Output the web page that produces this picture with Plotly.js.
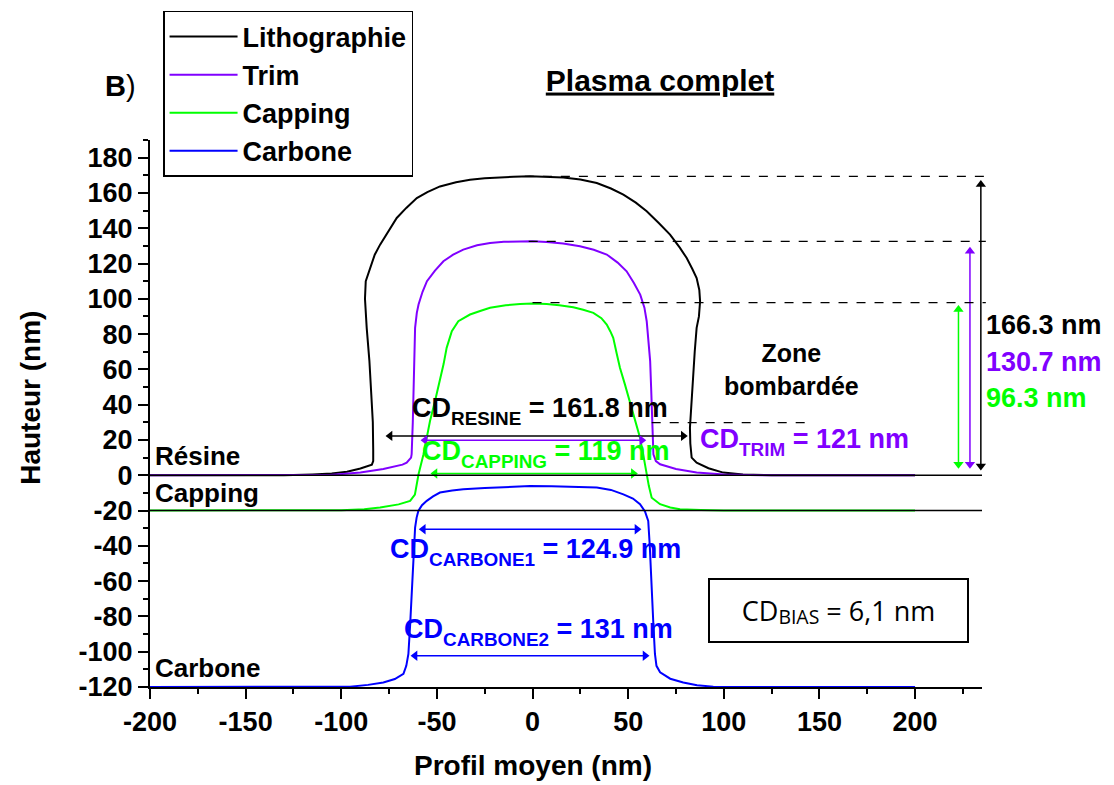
<!DOCTYPE html>
<html><head><meta charset="utf-8">
<script src="https://cdn.plot.ly/plotly-3.0.1.min.js"></script>
<style>html,body{margin:0;padding:0;background:#fff}</style>
</head><body><div id="chart" style="width:1114px;height:785px"></div>
<script>
// ---- data ----
const seriesNames = ['Lithographie','Trim','Capping','Carbone'];
const seriesColors = ['#000000','#8000ff','#00ff00','#0000ff'];

const lithoX = [-200,-130,-115,-105,-97,-90,-84,-83.3,-83.3,-83.5,-84.3,-85.3,-86.7,-87.6,-87.2,-85,-82.5,-79.7,-75.5,-71,-66,-60.5,-55,-48.4,-40,-32.7,-25,-18.7,-10,-1.3,8,16.1,25,33.6,41,47.5,54,59.7,66,71.9,77,80.6,83.5,85.8,87.2,87.6,87,85.8,84.8,84,83.2,82.3,82.5,83.2,85.8,92,99.7,110,125,200];
const lithoY = [0,0,0.5,1,2,3.8,6,8,14,30,45.8,65,83.5,100,110,117.5,125,130.7,138,145.8,151.5,157.1,160.5,163.7,166,167.5,168.3,168.8,169.2,169.4,169.2,168.8,167.6,165.6,162.5,159,154.5,149.6,143,136.4,129,123.1,117,111.8,105,98.6,90,83.5,70,55.2,40,26.9,18,10,7.1,4,1.5,0.5,0,0];

const trimX = [-200,-130,-106,-90,-78,-68,-65.8,-63.5,-63.2,-62.6,-62.3,-61.8,-61.4,-60.5,-59.6,-57.5,-55.2,-51,-46.6,-41.5,-36.2,-29,-22.2,-15,-8.3,0,7.4,16,24.8,32,38.8,44.5,49.2,53,56.3,58.5,59.7,60.8,61.5,62,62.3,62.8,63.2,64.5,66.7,75,85.8,100,120,200];
const trimY = [0,0,0.2,1.5,3.5,6,7.1,10,11.9,30,45.8,65,83.5,92,96.8,104,110,116,121.3,125,127.9,130.3,131.6,132.3,132.6,132.6,132.2,131.3,129.8,127.8,125.1,120.5,115.6,109,102.4,95,87.3,75,64.7,50,36.4,20,11.9,8,6.2,3.5,1.5,0.4,0,0];

const cappingX = [-200,-120,-100,-88,-79.7,-70,-64,-61.5,-60.5,-59.6,-57,-55.3,-53.6,-51,-48.4,-46.5,-44.9,-42.2,-38.8,-32.7,-27,-22.2,-14,-6.5,0,7.4,14,21.3,26.5,31.8,36,38.8,40.7,42.2,44,45.7,48.3,50.9,53.5,56.2,58,59.7,60.8,62.3,66.7,72,77.1,88,100,200];
const cappingY = [-20,-20,-19.8,-19.2,-18.3,-16.5,-14.5,-11,-5,0.6,11.9,21,30.7,42,53.4,63,72.2,81.7,87.3,91.1,93.2,94.9,96.3,97.1,97.3,97.1,96.4,95.2,93.8,92,89,85.4,81.5,77.9,69,60.9,51.5,42,31.5,21.3,11,0.6,-6,-12.7,-16.4,-18.3,-19.2,-19.7,-20,-20];

const carboneX = [-200,-110,-95.4,-86,-78,-72,-67.5,-66,-64.9,-64,-63.2,-62.3,-61.4,-60.6,-59.7,-57.8,-55.3,-52,-48.4,-42,-36.2,-25,-12,-1.3,10,22,33.6,41,47.5,52.5,56.2,58.8,60.5,61.3,62.3,63.2,64,64.8,66.7,72,78.8,86,94.5,105,200];
const carboneY = [-120,-120,-119.8,-118.8,-117.4,-115.5,-112.6,-108,-101.3,-85,-67.4,-48,-29.7,-24,-20.2,-17,-14.5,-12,-9.8,-8.6,-7.9,-7.2,-6.6,-6.1,-6.2,-6.5,-7,-8.3,-10.8,-13.2,-16.4,-20.5,-25.9,-40,-67.4,-85,-101.3,-108,-111.7,-115.3,-117.4,-119,-119.8,-120,-120];

// tick labels
const xTickVals = [-200,-150,-100,-50,0,50,100,150,200];
const xTickText = ['-200','-150','-100','-50','0','50','100','150','200'];
const yTickVals = [-120,-100,-80,-60,-40,-20,0,20,40,60,80,100,120,140,160,180];
const yTickText = ['-120','-100','-80','-60','-40','-20','0','20','40','60','80','100','120','140','160','180'];

// axis titles
const xTitle = 'Profil moyen (nm)';
const yTitle = 'Hauteur (nm)';

// layer boundaries
const layerLevels = [0, -20];
const layerNames = ['Résine','Capping','Carbone'];
const layerLabelY = [10.9, -10, -109];

// heights (dashed references) and measured values
const topLevels = [169.4, 132.6, 97.8];
const dashStartX = [-4, -2, 0];
const heightLabels = ['166.3 nm','130.7 nm','96.3 nm'];
const heightArrowX = [234.4, 228.7, 222.7];
const heightArrowTop = [167.6, 129.8, 96.8];
const heightArrowBottom = [2.4, 3.4, 3.4];
const heightLabelY = [85, 64.2, 43.6];

// CD measurement arrows
const cdNames = ['RESINE','TRIM','CAPPING','CARBONE1','CARBONE2'];
const cdValues = ['161.8 nm','121 nm','119 nm','124.9 nm','131 nm'];
const cdColors = ['#000000','#8000ff','#00ff00','#0000ff','#0000ff'];
const cdArrowY = [22.3, 19.8, 1.0, -30.6, -102.3];
const cdArrowX0 = [-77.1, -58.8, -53.6, -59.7, -64];
const cdArrowX1 = [81.4, 59.7, 55.3, 57.2, 61.4];
const cdTextX = [-64, 86.5, -59, -75.5, -68.2];
const cdTextY = [36.5, 18.6, 12.2, -43.5, -88.8];

const XR = [-200, 235];
const YR = [-120, 190];
const xp = v => (v - XR[0]) / (XR[1] - XR[0]);

const FONT = 'Liberation Sans, Arial, sans-serif';
const HEAD_X = 2.6, HEAD_Y = 2.8; // arrow head half-length in data units
const sub = s => '<span style="font-size:70%;baseline-shift:-0.42em">' + s + '</span>';

// ---- traces ----
const xs = [lithoX, trimX, cappingX, carboneX];
const ys = [lithoY, trimY, cappingY, carboneY];
const traces = seriesNames.map((n, i) => ({
  x: xs[i], y: ys[i], name: n, type: 'scatter', mode: 'lines',
  line: {color: seriesColors[i], width: 2}
}));

// double-headed arrows as line+marker traces
cdNames.forEach((n, i) => traces.push({
  x: [cdArrowX0[i] + HEAD_X, cdArrowX1[i] - HEAD_X], y: [cdArrowY[i], cdArrowY[i]],
  type: 'scatter', mode: 'lines+markers', showlegend: false, hoverinfo: 'skip', cliponaxis: false,
  line: {color: cdColors[i], width: 1.5},
  marker: {symbol: ['triangle-left','triangle-right'], size: 9, color: cdColors[i]}
}));
heightLabels.forEach((h, i) => traces.push({
  x: [heightArrowX[i], heightArrowX[i]], y: [heightArrowBottom[i] + HEAD_Y, heightArrowTop[i] - HEAD_Y],
  type: 'scatter', mode: 'lines+markers', showlegend: false, hoverinfo: 'skip', cliponaxis: false,
  line: {color: seriesColors[i], width: 1.5},
  marker: {symbol: ['triangle-down','triangle-up'], size: 9, color: seriesColors[i]}
}));

// ---- shapes ----
const shapes = [];
layerLevels.forEach(l => shapes.push({type:'line', xref:'paper', yref:'y', x0:0, x1:1, y0:l, y1:l, line:{color:'black', width:1.5}}));
topLevels.forEach((t, i) => shapes.push({type:'line', xref:'paper', yref:'y', x0:xp(dashStartX[i]), x1:xp(237), y0:t, y1:t, line:{color:'black', width:1.3, dash:'dash'}}));
shapes.push({type:'line', xref:'x', yref:'y', x0:62.3, x1:145, y0:29.8, y1:29.8, line:{color:'black', width:1.3, dash:'dash'}});

// ---- annotations ----
const ann = [];
cdNames.forEach((n, i) => ann.push({xref:'x', yref:'y', x:cdTextX[i], y:cdTextY[i], xanchor:'left', yanchor:'middle', showarrow:false,
  text:'CD' + sub(n) + ' = ' + cdValues[i], font:{family:FONT, size:27, weight:700, color:cdColors[i]}}));
heightLabels.forEach((h, i) => ann.push({xref:'paper', yref:'y', x:xp(236.2), y:heightLabelY[i], xanchor:'left', yanchor:'middle', showarrow:false,
  text:h, font:{family:FONT, size:27, weight:700, color:seriesColors[i]}}));
layerNames.forEach((n, i) => ann.push({xref:'x', yref:'y', x:-198.5, y:layerLabelY[i], xanchor:'left', yanchor:'middle', showarrow:false,
  text:n, font:{family:FONT, size:26, weight:700, color:'black'}}));
ann.push({xref:'x', yref:'y', x:135.5, y:60, xanchor:'center', yanchor:'middle', showarrow:false,
  text:'Zone<br>bombardée', font:{family:FONT, size:25, weight:700, color:'black'}});
ann.push({xref:'x', yref:'y', x:160, y:-76.5, xanchor:'center', yanchor:'middle', showarrow:false,
  text:'CD<span style="font-size:72%;baseline-shift:-0.15em">BIAS</span> = 6,1 nm', width:255, height:59, borderpad:1, bordercolor:'black', borderwidth:2, bgcolor:'white',
  font:{family:'Open Sans, Noto Sans, sans-serif', size:27, color:'black'}});
ann.push({xref:'paper', yref:'paper', x:-0.056, y:1.099, xanchor:'left', yanchor:'middle', showarrow:false,
  text:'<b>B</b>)', font:{family:FONT, size:29, color:'black'}});
// axis titles (placed where the reference draws them)
ann.push({xref:'x', yref:'paper', x:0, y:-0.144, xanchor:'center', yanchor:'middle', showarrow:false,
  text:xTitle, font:{family:FONT, size:28, weight:700, color:'black'}});
ann.push({xref:'paper', yref:'y', x:-0.144, y:44, xanchor:'center', yanchor:'middle', textangle:-90, showarrow:false,
  text:yTitle, font:{family:FONT, size:28, weight:700, color:'black'}});

const alias = (vals, txt) => Object.fromEntries(vals.map((v, i) => [String(v).replace('-', '\u2212'), txt[i]]));

const axisCommon = {showline:true, linecolor:'black', linewidth:2, showgrid:false, zeroline:false, ticks:'outside', ticklen:10, tickwidth:2, tickcolor:'black',
  tickfont:{family:FONT, size:27, weight:700, color:'black'}};

const layout = {
  width:1114, height:785,
  margin:{l:150, r:132, t:139, b:98},
  paper_bgcolor:'white', plot_bgcolor:'white',
  font:{family:FONT, color:'black'},
  title:{text:'<span style="text-decoration:underline">Plasma complet</span>', xref:'paper', x:0.613, xanchor:'center', y:0.898, yanchor:'middle',
    font:{family:FONT, size:30, weight:700, color:'black'}},
  xaxis:Object.assign({}, axisCommon, {range:XR, tick0:-200, dtick:50, labelalias:alias(xTickVals, xTickText),
    minor:{dtick:25, ticks:'outside', ticklen:5, tickwidth:2, tickcolor:'black'}}),
  yaxis:Object.assign({}, axisCommon, {range:YR, tick0:0, dtick:20, labelalias:alias(yTickVals, yTickText),
    minor:{dtick:10, ticks:'outside', ticklen:5, tickwidth:2, tickcolor:'black'}}),
  showlegend:true,
  legend:{x:0.0157, y:1.2336, xanchor:'left', yanchor:'top', bordercolor:'black', borderwidth:1.5, bgcolor:'white',
    font:{family:FONT, size:27, weight:700, color:'black'}, itemwidth:68, tracegroupgap:0},
  shapes:shapes,
  annotations:ann
};

Plotly.newPlot('chart', traces, layout, {displayModeBar:false, staticPlot:true});
</script></body></html>
